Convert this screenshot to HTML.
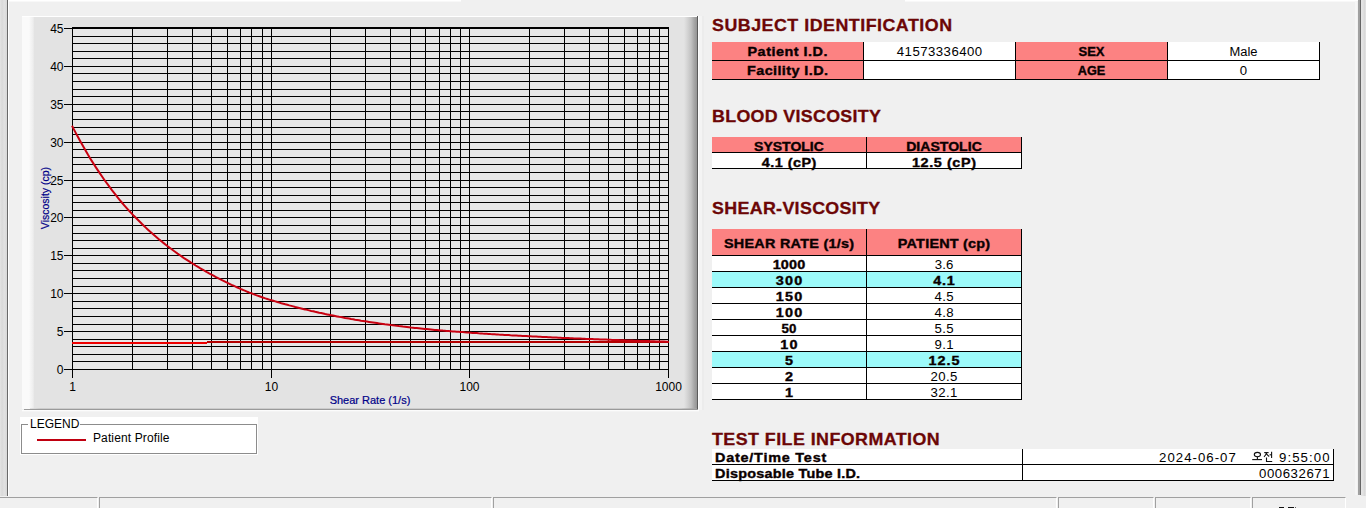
<!DOCTYPE html>
<html><head><meta charset="utf-8"><style>
html,body{margin:0;padding:0;}
body{width:1366px;height:508px;overflow:hidden;background:#f0f0f0;position:relative;font-family:"Liberation Sans", sans-serif;}
.a{position:absolute;}
.c{position:absolute;white-space:nowrap;overflow:hidden;color:#000;}
.t{position:absolute;white-space:nowrap;color:#000;line-height:12px;height:12px;font-size:12px;}
.vb{font-weight:bold;font-size:12px;color:#0a0000;-webkit-text-stroke:0.35px #0a0000;}
.vr{font-size:12px;color:#000;}
.hl{position:absolute;height:1px;background:#000;}
.vl{position:absolute;width:1px;background:#000;}
.ttl{position:absolute;font-weight:bold;font-size:16.5px;letter-spacing:1.32px;color:#6c0606;white-space:nowrap;line-height:17px;-webkit-text-stroke:0.3px #6c0606;transform:scaleX(1.08);transform-origin:0 50%;}
</style></head><body>
<!-- window frame -->
<div class="a" style="left:0;top:0;width:7px;height:496px;background:linear-gradient(90deg,#e4e4e4,#d9d9d9 30%,#e2e2e2 60%,#d8d8d8)"></div>
<div class="a" style="left:7px;top:0;width:1px;height:496px;background:#696969"></div>
<div class="a" style="left:8px;top:0;width:1px;height:496px;background:#fff"></div>
<div class="a" style="left:1355px;top:0;width:2px;height:495px;background:#f6f6f6"></div>
<div class="a" style="left:1358px;top:0;width:2px;height:495px;background:#a0a0a0"></div>
<div class="a" style="left:1360px;top:0;width:1px;height:495px;background:#666"></div>
<div class="a" style="left:1361px;top:0;width:5px;height:496px;background:linear-gradient(90deg,#e6e6e6,#e2e2e2 40%,#d9d9d9 70%,#e4e4e4)"></div>
<div class="a" style="left:8px;top:0;width:453px;height:1px;background:#fff"></div>
<div class="a" style="left:905px;top:0;width:453px;height:1px;background:#fff"></div>
<div class="a" style="left:9px;top:1px;width:452px;height:1px;background:#f8f8f8"></div>
<div class="a" style="left:905px;top:1px;width:450px;height:1px;background:#f8f8f8"></div>

<!-- chart panel -->
<div class="a" style="left:22px;top:16px;width:675px;height:393px;background:linear-gradient(90deg,#fafafa 0px,#fafafa 7px,#f5f5f5 8.5px,#eeeeee 11px,#e3e3e3 12.5px,#e3e3e3 662px,#d6d6d6 665px,#c2c2c2 669px,#a8a8a8 672px,#949494 675px);"></div>
<div class="a" style="left:22px;top:16px;width:675px;height:1px;background:#fff"></div>
<div class="a" style="left:697px;top:16px;width:1px;height:394px;background:#5a5a5a"></div>
<div class="a" style="left:698px;top:16px;width:1px;height:394px;background:#fdfdfd"></div>
<div class="a" style="left:699px;top:16px;width:3px;height:394px;background:#f4f4f4"></div>
<div class="a" style="left:702px;top:16px;width:2px;height:394px;background:#ececec"></div>
<div class="a" style="left:30px;top:408px;width:667px;height:1px;background:linear-gradient(90deg,#e3e3e3,#cccccc 10px,#cccccc 650px,#a0a0a0)"></div>
<div class="a" style="left:24px;top:409px;width:674px;height:1px;background:#9a9a9a"></div>
<div class="a" style="left:22px;top:410px;width:677px;height:1px;background:#fcfcfc"></div>
<div class="a" style="left:22px;top:411px;width:677px;height:1px;background:#f4f4f4"></div>
<svg class="a" style="left:0;top:0" width="700" height="410" viewBox="0 0 700 410">
<g stroke="#000" stroke-width="1" shape-rendering="crispEdges">
<rect x="72" y="28" width="596" height="341" fill="#e7e7e7"/>
<line x1="72" y1="369.5" x2="669" y2="369.5"/>
<line x1="72" y1="361.5" x2="669" y2="361.5"/>
<line x1="72" y1="354.5" x2="669" y2="354.5"/>
<line x1="72" y1="346.5" x2="669" y2="346.5"/>
<line x1="72" y1="339.5" x2="669" y2="339.5"/>
<line x1="72" y1="331.5" x2="669" y2="331.5"/>
<line x1="72" y1="324.5" x2="669" y2="324.5"/>
<line x1="72" y1="316.5" x2="669" y2="316.5"/>
<line x1="72" y1="308.5" x2="669" y2="308.5"/>
<line x1="72" y1="301.5" x2="669" y2="301.5"/>
<line x1="72" y1="293.5" x2="669" y2="293.5"/>
<line x1="72" y1="286.5" x2="669" y2="286.5"/>
<line x1="72" y1="278.5" x2="669" y2="278.5"/>
<line x1="72" y1="270.5" x2="669" y2="270.5"/>
<line x1="72" y1="263.5" x2="669" y2="263.5"/>
<line x1="72" y1="255.5" x2="669" y2="255.5"/>
<line x1="72" y1="248.5" x2="669" y2="248.5"/>
<line x1="72" y1="240.5" x2="669" y2="240.5"/>
<line x1="72" y1="233.5" x2="669" y2="233.5"/>
<line x1="72" y1="225.5" x2="669" y2="225.5"/>
<line x1="72" y1="217.5" x2="669" y2="217.5"/>
<line x1="72" y1="210.5" x2="669" y2="210.5"/>
<line x1="72" y1="202.5" x2="669" y2="202.5"/>
<line x1="72" y1="195.5" x2="669" y2="195.5"/>
<line x1="72" y1="187.5" x2="669" y2="187.5"/>
<line x1="72" y1="180.5" x2="669" y2="180.5"/>
<line x1="72" y1="172.5" x2="669" y2="172.5"/>
<line x1="72" y1="164.5" x2="669" y2="164.5"/>
<line x1="72" y1="157.5" x2="669" y2="157.5"/>
<line x1="72" y1="149.5" x2="669" y2="149.5"/>
<line x1="72" y1="142.5" x2="669" y2="142.5"/>
<line x1="72" y1="134.5" x2="669" y2="134.5"/>
<line x1="72" y1="127.5" x2="669" y2="127.5"/>
<line x1="72" y1="119.5" x2="669" y2="119.5"/>
<line x1="72" y1="111.5" x2="669" y2="111.5"/>
<line x1="72" y1="104.5" x2="669" y2="104.5"/>
<line x1="72" y1="96.5" x2="669" y2="96.5"/>
<line x1="72" y1="89.5" x2="669" y2="89.5"/>
<line x1="72" y1="81.5" x2="669" y2="81.5"/>
<line x1="72" y1="73.5" x2="669" y2="73.5"/>
<line x1="72" y1="66.5" x2="669" y2="66.5"/>
<line x1="72" y1="58.5" x2="669" y2="58.5"/>
<line x1="72" y1="51.5" x2="669" y2="51.5"/>
<line x1="72" y1="43.5" x2="669" y2="43.5"/>
<line x1="72" y1="36.5" x2="669" y2="36.5"/>
<line x1="72" y1="28.5" x2="669" y2="28.5"/>
<line x1="72" y1="27.5" x2="669" y2="27.5"/>
<line x1="72.5" y1="28" x2="72.5" y2="370"/>
<line x1="132.5" y1="28" x2="132.5" y2="370"/>
<line x1="167.5" y1="28" x2="167.5" y2="370"/>
<line x1="192.5" y1="28" x2="192.5" y2="370"/>
<line x1="211.5" y1="28" x2="211.5" y2="370"/>
<line x1="227.5" y1="28" x2="227.5" y2="370"/>
<line x1="240.5" y1="28" x2="240.5" y2="370"/>
<line x1="251.5" y1="28" x2="251.5" y2="370"/>
<line x1="262.5" y1="28" x2="262.5" y2="370"/>
<line x1="271.5" y1="28" x2="271.5" y2="370"/>
<line x1="330.5" y1="28" x2="330.5" y2="370"/>
<line x1="365.5" y1="28" x2="365.5" y2="370"/>
<line x1="390.5" y1="28" x2="390.5" y2="370"/>
<line x1="410.5" y1="28" x2="410.5" y2="370"/>
<line x1="425.5" y1="28" x2="425.5" y2="370"/>
<line x1="439.5" y1="28" x2="439.5" y2="370"/>
<line x1="450.5" y1="28" x2="450.5" y2="370"/>
<line x1="460.5" y1="28" x2="460.5" y2="370"/>
<line x1="469.5" y1="28" x2="469.5" y2="370"/>
<line x1="529.5" y1="28" x2="529.5" y2="370"/>
<line x1="564.5" y1="28" x2="564.5" y2="370"/>
<line x1="589.5" y1="28" x2="589.5" y2="370"/>
<line x1="608.5" y1="28" x2="608.5" y2="370"/>
<line x1="624.5" y1="28" x2="624.5" y2="370"/>
<line x1="637.5" y1="28" x2="637.5" y2="370"/>
<line x1="649.5" y1="28" x2="649.5" y2="370"/>
<line x1="659.5" y1="28" x2="659.5" y2="370"/>
<line x1="668.5" y1="28" x2="668.5" y2="370"/>
<line x1="64" y1="369.5" x2="72" y2="369.5"/>
<line x1="64" y1="331.5" x2="72" y2="331.5"/>
<line x1="64" y1="293.5" x2="72" y2="293.5"/>
<line x1="64" y1="255.5" x2="72" y2="255.5"/>
<line x1="64" y1="217.5" x2="72" y2="217.5"/>
<line x1="64" y1="180.5" x2="72" y2="180.5"/>
<line x1="64" y1="142.5" x2="72" y2="142.5"/>
<line x1="64" y1="104.5" x2="72" y2="104.5"/>
<line x1="64" y1="66.5" x2="72" y2="66.5"/>
<line x1="64" y1="28.5" x2="72" y2="28.5"/>
<line x1="72.5" y1="370" x2="72.5" y2="378"/>
<line x1="271.5" y1="370" x2="271.5" y2="378"/>
<line x1="469.5" y1="370" x2="469.5" y2="378"/>
<line x1="668.5" y1="370" x2="668.5" y2="378"/>
</g>
<g font-family='"Liberation Sans", sans-serif' font-size="12px" fill="#000">
<text x="63.5" y="374" text-anchor="end">0</text>
<text x="63.5" y="336" text-anchor="end">5</text>
<text x="63.5" y="298" text-anchor="end">10</text>
<text x="63.5" y="260" text-anchor="end">15</text>
<text x="63.5" y="222" text-anchor="end">20</text>
<text x="63.5" y="185" text-anchor="end">25</text>
<text x="63.5" y="147" text-anchor="end">30</text>
<text x="63.5" y="109" text-anchor="end">35</text>
<text x="63.5" y="71" text-anchor="end">40</text>
<text x="63.5" y="33" text-anchor="end">45</text>
<text x="72.5" y="391" text-anchor="middle">1</text>
<text x="271.5" y="391" text-anchor="middle">10</text>
<text x="469.5" y="391" text-anchor="middle">100</text>
<text x="668.5" y="391" text-anchor="middle">1000</text>
</g>
<rect x="72" y="342" width="135" height="2" fill="#ee0000"/>
<rect x="207" y="341" width="462" height="2" fill="#b40000"/>
<polyline points="72.0,125.8 74.0,129.6 76.0,133.4 78.0,137.1 80.0,140.7 82.0,144.3 84.0,147.8 86.0,151.2 87.9,154.6 89.9,157.9 91.9,161.1 93.9,164.3 95.9,167.4 97.9,170.4 99.9,173.4 101.9,176.3 103.9,179.2 105.9,182.0 107.9,184.7 109.9,187.4 111.9,190.1 113.9,192.6 115.9,195.2 117.8,197.7 119.8,200.1 121.8,202.5 123.8,204.8 125.8,207.1 127.8,209.3 129.8,211.5 131.8,213.6 133.8,215.8 135.8,217.8 137.8,219.8 139.8,221.8 141.8,223.8 143.8,225.7 145.8,227.6 147.7,229.4 149.7,231.3 151.7,233.0 153.7,234.8 155.7,236.5 157.7,238.2 159.7,239.9 161.7,241.5 163.7,243.1 165.7,244.7 167.7,246.3 169.7,247.8 171.7,249.3 173.7,250.8 175.7,252.2 177.6,253.6 179.6,255.0 181.6,256.4 183.6,257.8 185.6,259.1 187.6,260.4 189.6,261.7 191.6,263.0 193.6,264.2 195.6,265.5 197.6,266.7 199.6,267.9 201.6,269.0 203.6,270.2 205.6,271.3 207.5,272.5 209.5,273.6 211.5,274.6 213.5,275.7 215.5,276.8 217.5,277.8 219.5,278.8 221.5,279.9 223.5,280.9 225.5,281.9 227.5,282.8 229.5,283.8 231.5,284.8 233.5,285.7 235.5,286.6 237.4,287.5 239.4,288.4 241.4,289.3 243.4,290.1 245.4,290.9 247.4,291.8 249.4,292.6 251.4,293.3 253.4,294.1 255.4,294.9 257.4,295.6 259.4,296.3 261.4,297.0 263.4,297.7 265.4,298.4 267.3,299.0 269.3,299.6 271.3,300.2 273.3,300.8 275.3,301.4 277.3,302.0 279.3,302.6 281.3,303.2 283.3,303.7 285.3,304.3 287.3,304.8 289.3,305.4 291.3,305.9 293.3,306.4 295.3,307.0 297.2,307.5 299.2,308.0 301.2,308.5 303.2,309.0 305.2,309.4 307.2,309.9 309.2,310.4 311.2,310.9 313.2,311.3 315.2,311.8 317.2,312.2 319.2,312.7 321.2,313.1 323.2,313.5 325.2,314.0 327.1,314.4 329.1,314.8 331.1,315.2 333.1,315.6 335.1,316.0 337.1,316.4 339.1,316.8 341.1,317.1 343.1,317.5 345.1,317.9 347.1,318.2 349.1,318.6 351.1,319.0 353.1,319.3 355.1,319.7 357.0,320.0 359.0,320.3 361.0,320.7 363.0,321.0 365.0,321.3 367.0,321.6 369.0,321.9 371.0,322.2 373.0,322.5 375.0,322.8 377.0,323.1 379.0,323.4 381.0,323.7 383.0,324.0 384.9,324.3 386.9,324.5 388.9,324.8 390.9,325.1 392.9,325.3 394.9,325.6 396.9,325.8 398.9,326.1 400.9,326.3 402.9,326.6 404.9,326.8 406.9,327.0 408.9,327.2 410.9,327.5 412.9,327.7 414.8,327.9 416.8,328.1 418.8,328.3 420.8,328.5 422.8,328.7 424.8,328.9 426.8,329.1 428.8,329.3 430.8,329.5 432.8,329.7 434.8,329.9 436.8,330.0 438.8,330.2 440.8,330.4 442.8,330.6 444.7,330.7 446.7,330.9 448.7,331.0 450.7,331.2 452.7,331.4 454.7,331.5 456.7,331.7 458.7,331.8 460.7,332.0 462.7,332.1 464.7,332.3 466.7,332.4 468.7,332.6 470.7,332.7 472.7,332.9 474.6,333.0 476.6,333.1 478.6,333.3 480.6,333.4 482.6,333.6 484.6,333.7 486.6,333.8 488.6,333.9 490.6,334.1 492.6,334.2 494.6,334.3 496.6,334.4 498.6,334.6 500.6,334.7 502.6,334.8 504.5,334.9 506.5,335.0 508.5,335.1 510.5,335.3 512.5,335.4 514.5,335.5 516.5,335.6 518.5,335.7 520.5,335.8 522.5,335.9 524.5,336.0 526.5,336.1 528.5,336.2 530.5,336.3 532.5,336.4 534.4,336.5 536.4,336.6 538.4,336.7 540.4,336.8 542.4,336.9 544.4,337.0 546.4,337.1 548.4,337.2 550.4,337.3 552.4,337.4 554.4,337.5 556.4,337.6 558.4,337.7 560.4,337.8 562.4,337.9 564.3,337.9 566.3,338.0 568.3,338.1 570.3,338.2 572.3,338.3 574.3,338.4 576.3,338.5 578.3,338.5 580.3,338.6 582.3,338.7 584.3,338.8 586.3,338.9 588.3,338.9 590.3,339.0 592.3,339.1 594.2,339.2 596.2,339.3 598.2,339.3 600.2,339.4 602.2,339.5 604.2,339.6 606.2,339.6 608.2,339.7 610.2,339.8 612.2,339.9 614.2,339.9 616.2,340.0 618.2,340.1 620.2,340.2 622.2,340.2 624.1,340.3 626.1,340.4 628.1,340.4 630.1,340.5 632.1,340.6 634.1,340.7 636.1,340.7 638.1,340.8 640.1,340.9 642.1,340.9 644.1,341.0 646.1,341.0 648.1,341.1 650.1,341.2 652.1,341.2 654.0,341.3 656.0,341.4 658.0,341.4 660.0,341.5 662.0,341.5 664.0,341.6 666.0,341.7 668.0,341.7" fill="none" stroke="#c80010" stroke-width="2"/>
<text x="370" y="403.5" text-anchor="middle" font-family='"Liberation Sans", sans-serif' font-size="11px" fill="#000088" stroke="#000088" stroke-width="0.2">Shear Rate (1/s)</text>
<text transform="translate(48.5,198) rotate(-90)" x="0" y="0" text-anchor="middle" font-family='"Liberation Sans", sans-serif' font-size="10.5px" fill="#000088" stroke="#000088" stroke-width="0.2">Viscosity (cp)</text>
</svg>

<!-- legend -->
<div class="a" style="left:20px;top:417px;width:238px;height:38px;background:#fff"></div>
<div class="a" style="left:21px;top:424px;width:234px;height:28px;border:1px solid #8c8c8c"></div>
<div class="a" style="left:28px;top:418px;width:52px;height:12px;background:#fff"></div>
<div class="t" style="left:30px;top:418px;font-size:12px;">LEGEND</div>
<div class="a" style="left:37px;top:439px;width:49px;height:2px;background:#c00010"></div>
<div class="t" style="left:93px;top:432px;font-size:12px;letter-spacing:0.12px">Patient Profile</div>

<!-- titles -->
<div class="ttl" style="left:712px;top:17px;letter-spacing:0.47px">SUBJECT IDENTIFICATION</div>
<div class="ttl" style="left:712px;top:108px;letter-spacing:0.3px">BLOOD VISCOSITY</div>
<div class="ttl" style="left:712px;top:200px;letter-spacing:0.32px">SHEAR-VISCOSITY</div>
<div class="ttl" style="left:712px;top:431px;letter-spacing:0.43px">TEST FILE INFORMATION</div>

<div class="a" style="left:712px;top:42px;width:151px;height:18px;background:#fc8282"></div>
<div class="t vb" style="left:712px;top:46px;width:151px;text-align:center;letter-spacing:0.42px;text-indent:0.42px;transform:scaleX(1.2);transform-origin:center 50%;">Patient I.D.</div>
<div class="a" style="left:864px;top:42px;width:151px;height:18px;background:#fff"></div>
<div class="t vr" style="left:864px;top:46px;width:151px;text-align:center;letter-spacing:0.42px;text-indent:0.42px;transform:scaleX(1.1);transform-origin:center 50%;">41573336400</div>
<div class="a" style="left:1016px;top:42px;width:151px;height:18px;background:#fc8282"></div>
<div class="t vb" style="left:1016px;top:46px;width:151px;text-align:center;letter-spacing:0.0px;text-indent:0.0px;transform:scaleX(1.083);transform-origin:center 50%;">SEX</div>
<div class="a" style="left:1168px;top:42px;width:151px;height:18px;background:#fff"></div>
<div class="t vr" style="left:1168px;top:46px;width:151px;text-align:center;letter-spacing:0.0px;text-indent:0.0px;transform:scaleX(1.077);transform-origin:center 50%;">Male</div>
<div class="a" style="left:712px;top:61px;width:151px;height:18px;background:#fc8282"></div>
<div class="t vb" style="left:712px;top:65px;width:151px;text-align:center;letter-spacing:0.34px;text-indent:0.34px;transform:scaleX(1.2);transform-origin:center 50%;">Facility I.D.</div>
<div class="a" style="left:864px;top:61px;width:151px;height:18px;background:#fff"></div>
<div class="a" style="left:1016px;top:61px;width:151px;height:18px;background:#fc8282"></div>
<div class="t vb" style="left:1016px;top:65px;width:151px;text-align:center;letter-spacing:0.0px;text-indent:0.0px;transform:scaleX(1.058);transform-origin:center 50%;">AGE</div>
<div class="a" style="left:1168px;top:61px;width:151px;height:18px;background:#fff"></div>
<div class="t vr" style="left:1168px;top:65px;width:151px;text-align:center;letter-spacing:0px;text-indent:0px;transform:scaleX(1.1);transform-origin:center 50%;">0</div>
<div class="hl" style="left:712px;top:60px;width:608px"></div>
<div class="hl" style="left:712px;top:79px;width:608px"></div>
<div class="vl" style="left:863px;top:42px;height:38px"></div>
<div class="vl" style="left:1015px;top:42px;height:38px"></div>
<div class="vl" style="left:1167px;top:42px;height:38px"></div>
<div class="vl" style="left:1319px;top:42px;height:38px"></div>
<div class="a" style="left:712px;top:137px;width:154px;height:15px;background:#fc8282"></div>
<div class="t vb" style="left:712px;top:141px;width:154px;text-align:center;letter-spacing:-0.0px;text-indent:-0.0px;transform:scaleX(1.167);transform-origin:center 50%;">SYSTOLIC</div>
<div class="a" style="left:867px;top:137px;width:154px;height:15px;background:#fc8282"></div>
<div class="t vb" style="left:867px;top:141px;width:154px;text-align:center;letter-spacing:0.0px;text-indent:0.0px;transform:scaleX(1.174);transform-origin:center 50%;">DIASTOLIC</div>
<div class="a" style="left:712px;top:153px;width:154px;height:15px;background:#fff"></div>
<div class="t vb" style="left:712px;top:157px;width:154px;text-align:center;letter-spacing:0.4px;text-indent:0.4px;transform:scaleX(1.2);transform-origin:center 50%;">4.1 (cP)</div>
<div class="a" style="left:867px;top:153px;width:154px;height:15px;background:#fff"></div>
<div class="t vb" style="left:867px;top:157px;width:154px;text-align:center;letter-spacing:0.49px;text-indent:0.49px;transform:scaleX(1.2);transform-origin:center 50%;">12.5 (cP)</div>
<div class="hl" style="left:712px;top:152px;width:310px"></div>
<div class="hl" style="left:712px;top:168px;width:310px"></div>
<div class="vl" style="left:866px;top:137px;height:32px"></div>
<div class="vl" style="left:1021px;top:137px;height:32px"></div>
<div class="a" style="left:712px;top:229px;width:154px;height:26px;background:#fc8282"></div>
<div class="a" style="left:867px;top:229px;width:154px;height:26px;background:#fc8282"></div>
<div class="t vb" style="left:712px;top:238px;width:154px;text-align:center;letter-spacing:0.22px;text-indent:0.22px;transform:scaleX(1.2);transform-origin:center 50%;">SHEAR RATE (1/s)</div>
<div class="t vb" style="left:867px;top:238px;width:154px;text-align:center;letter-spacing:0.19px;text-indent:0.19px;transform:scaleX(1.2);transform-origin:center 50%;">PATIENT (cp)</div>
<div class="hl" style="left:712px;top:255px;width:310px"></div>
<div class="a" style="left:712px;top:256px;width:154px;height:15px;background:#fff"></div>
<div class="a" style="left:867px;top:256px;width:154px;height:15px;background:#fff"></div>
<div class="t vb" style="left:712px;top:259px;width:154px;text-align:center;letter-spacing:0.17px;text-indent:0.17px;transform:scaleX(1.2);transform-origin:center 50%;">1000</div>
<div class="t vr" style="left:867px;top:259px;width:154px;text-align:center;letter-spacing:0.14px;text-indent:0.14px;transform:scaleX(1.1);transform-origin:center 50%;">3.6</div>
<div class="hl" style="left:712px;top:271px;width:310px"></div>
<div class="a" style="left:712px;top:272px;width:154px;height:15px;background:#9cfafa"></div>
<div class="a" style="left:867px;top:272px;width:154px;height:15px;background:#9cfafa"></div>
<div class="t vb" style="left:712px;top:275px;width:154px;text-align:center;letter-spacing:1.04px;text-indent:1.04px;transform:scaleX(1.2);transform-origin:center 50%;">300</div>
<div class="t vb" style="left:867px;top:275px;width:154px;text-align:center;letter-spacing:0.67px;text-indent:0.67px;transform:scaleX(1.2);transform-origin:center 50%;">4.1</div>
<div class="hl" style="left:712px;top:287px;width:310px"></div>
<div class="a" style="left:712px;top:288px;width:154px;height:15px;background:#fff"></div>
<div class="a" style="left:867px;top:288px;width:154px;height:15px;background:#fff"></div>
<div class="t vb" style="left:712px;top:291px;width:154px;text-align:center;letter-spacing:1.04px;text-indent:1.04px;transform:scaleX(1.2);transform-origin:center 50%;">150</div>
<div class="t vr" style="left:867px;top:291px;width:154px;text-align:center;letter-spacing:0.31px;text-indent:0.31px;transform:scaleX(1.1);transform-origin:center 50%;">4.5</div>
<div class="hl" style="left:712px;top:303px;width:310px"></div>
<div class="a" style="left:712px;top:304px;width:154px;height:15px;background:#fff"></div>
<div class="a" style="left:867px;top:304px;width:154px;height:15px;background:#fff"></div>
<div class="t vb" style="left:712px;top:307px;width:154px;text-align:center;letter-spacing:1.04px;text-indent:1.04px;transform:scaleX(1.2);transform-origin:center 50%;">100</div>
<div class="t vr" style="left:867px;top:307px;width:154px;text-align:center;letter-spacing:0.31px;text-indent:0.31px;transform:scaleX(1.1);transform-origin:center 50%;">4.8</div>
<div class="hl" style="left:712px;top:319px;width:310px"></div>
<div class="a" style="left:712px;top:320px;width:154px;height:15px;background:#fff"></div>
<div class="a" style="left:867px;top:320px;width:154px;height:15px;background:#fff"></div>
<div class="t vb" style="left:712px;top:323px;width:154px;text-align:center;letter-spacing:0.0px;text-indent:0.0px;transform:scaleX(1.107);transform-origin:center 50%;">50</div>
<div class="t vr" style="left:867px;top:323px;width:154px;text-align:center;letter-spacing:0.31px;text-indent:0.31px;transform:scaleX(1.1);transform-origin:center 50%;">5.5</div>
<div class="hl" style="left:712px;top:335px;width:310px"></div>
<div class="a" style="left:712px;top:336px;width:154px;height:15px;background:#fff"></div>
<div class="a" style="left:867px;top:336px;width:154px;height:15px;background:#fff"></div>
<div class="t vb" style="left:712px;top:339px;width:154px;text-align:center;letter-spacing:1.02px;text-indent:1.02px;transform:scaleX(1.2);transform-origin:center 50%;">10</div>
<div class="t vr" style="left:867px;top:339px;width:154px;text-align:center;letter-spacing:0.31px;text-indent:0.31px;transform:scaleX(1.1);transform-origin:center 50%;">9.1</div>
<div class="hl" style="left:712px;top:351px;width:310px"></div>
<div class="a" style="left:712px;top:352px;width:154px;height:15px;background:#9cfafa"></div>
<div class="a" style="left:867px;top:352px;width:154px;height:15px;background:#9cfafa"></div>
<div class="t vb" style="left:712px;top:355px;width:154px;text-align:center;letter-spacing:0px;text-indent:0px;transform:scaleX(1.2);transform-origin:center 50%;">5</div>
<div class="t vb" style="left:867px;top:355px;width:154px;text-align:center;letter-spacing:0.83px;text-indent:0.83px;transform:scaleX(1.2);transform-origin:center 50%;">12.5</div>
<div class="hl" style="left:712px;top:367px;width:310px"></div>
<div class="a" style="left:712px;top:368px;width:154px;height:15px;background:#fff"></div>
<div class="a" style="left:867px;top:368px;width:154px;height:15px;background:#fff"></div>
<div class="t vb" style="left:712px;top:371px;width:154px;text-align:center;letter-spacing:0px;text-indent:0px;transform:scaleX(1.2);transform-origin:center 50%;">2</div>
<div class="t vr" style="left:867px;top:371px;width:154px;text-align:center;letter-spacing:0.35px;text-indent:0.35px;transform:scaleX(1.1);transform-origin:center 50%;">20.5</div>
<div class="hl" style="left:712px;top:383px;width:310px"></div>
<div class="a" style="left:712px;top:384px;width:154px;height:15px;background:#fff"></div>
<div class="a" style="left:867px;top:384px;width:154px;height:15px;background:#fff"></div>
<div class="t vb" style="left:712px;top:387px;width:154px;text-align:center;letter-spacing:0px;text-indent:0px;transform:scaleX(1.2);transform-origin:center 50%;">1</div>
<div class="t vr" style="left:867px;top:387px;width:154px;text-align:center;letter-spacing:0.35px;text-indent:0.35px;transform:scaleX(1.1);transform-origin:center 50%;">32.1</div>
<div class="hl" style="left:712px;top:399px;width:310px"></div>
<div class="vl" style="left:866px;top:229px;height:171px"></div>
<div class="vl" style="left:1021px;top:229px;height:171px"></div>
<div class="a" style="left:712px;top:449px;width:310px;height:15px;background:#fff"></div>
<div class="a" style="left:1023px;top:449px;width:310px;height:15px;background:#fff"></div>
<div class="a" style="left:712px;top:465px;width:310px;height:15px;background:#fff"></div>
<div class="a" style="left:1023px;top:465px;width:310px;height:15px;background:#fff"></div>
<div class="t vb" style="left:715px;top:452px;width:300px;text-align:left;letter-spacing:0.65px;transform:scaleX(1.2);transform-origin:left 50%;">Date/Time Test</div>
<div class="t vb" style="left:715px;top:468px;width:300px;text-align:left;letter-spacing:0.2px;transform:scaleX(1.2);transform-origin:left 50%;">Disposable Tube I.D.</div>
<div class="hl" style="left:712px;top:464px;width:622px"></div>
<div class="hl" style="left:712px;top:480px;width:622px"></div>
<div class="vl" style="left:1022px;top:449px;height:32px"></div>
<div class="vl" style="left:1333px;top:449px;height:32px"></div>
<div class="t vr" style="left:1159px;top:452px;width:100px;text-align:left;letter-spacing:0.94px;transform:scaleX(1.1);transform-origin:left 50%;">2024-06-07</div>
<div class="t vr" style="left:1279px;top:452px;width:100px;text-align:left;letter-spacing:0.98px;transform:scaleX(1.1);transform-origin:left 50%;">9:55:00</div>
<div class="t vr" style="left:1259px;top:468px;width:100px;text-align:left;letter-spacing:0.51px;transform:scaleX(1.1);transform-origin:left 50%;">000632671</div>
<svg style="position:absolute;left:1250px;top:450px" width="26" height="14" viewBox="1250 450 26 14">
<g fill="none" stroke="#111" stroke-width="1.1">
<ellipse cx="1257.4" cy="454.6" rx="3.1" ry="2.2"/>
<line x1="1257.4" y1="456.8" x2="1257.4" y2="459.4"/>
<line x1="1252.2" y1="459.6" x2="1262" y2="459.6"/>
<line x1="1264.2" y1="452.6" x2="1268.6" y2="452.6"/>
<path d="M1266.4 452.8 Q1266 455 1264 456.8 M1266.4 453.6 Q1267.4 455.4 1269.2 456.4"/>
<line x1="1271.6" y1="451.8" x2="1271.6" y2="458"/>
<line x1="1269.6" y1="454.8" x2="1271.6" y2="454.8"/>
<path d="M1266.5 457.4 V461.5 H1272.2"/>
</g></svg>

<!-- status bar -->
<div class="a" style="left:0;top:497px;width:98px;height:11px;border-top:1px solid #a0a0a0;border-right:1px solid #fff;box-sizing:border-box"></div>
<div class="a" style="left:99px;top:497px;width:393px;height:11px;border-top:1px solid #a0a0a0;border-left:1px solid #a0a0a0;border-right:1px solid #fff;box-sizing:border-box"></div>
<div class="a" style="left:493px;top:497px;width:564px;height:11px;border-top:1px solid #a0a0a0;border-left:1px solid #a0a0a0;border-right:1px solid #fff;box-sizing:border-box"></div>
<div class="a" style="left:1058px;top:497px;width:96px;height:11px;border-top:1px solid #a0a0a0;border-left:1px solid #a0a0a0;border-right:1px solid #fff;box-sizing:border-box"></div>
<div class="a" style="left:1155px;top:497px;width:96px;height:11px;border-top:1px solid #a0a0a0;border-left:1px solid #a0a0a0;border-right:1px solid #fff;box-sizing:border-box"></div>
<div class="a" style="left:1252px;top:497px;width:94px;height:11px;border-top:1px solid #a0a0a0;border-left:1px solid #a0a0a0;border-right:1px solid #fff;box-sizing:border-box"></div>
<div class="a" style="left:1279px;top:507px;width:5px;height:1px;background:#111"></div>
<div class="a" style="left:1288px;top:507px;width:6px;height:1px;background:#111"></div>
<div class="a" style="left:1295px;top:507px;width:1px;height:1px;background:#666"></div>
</body></html>
